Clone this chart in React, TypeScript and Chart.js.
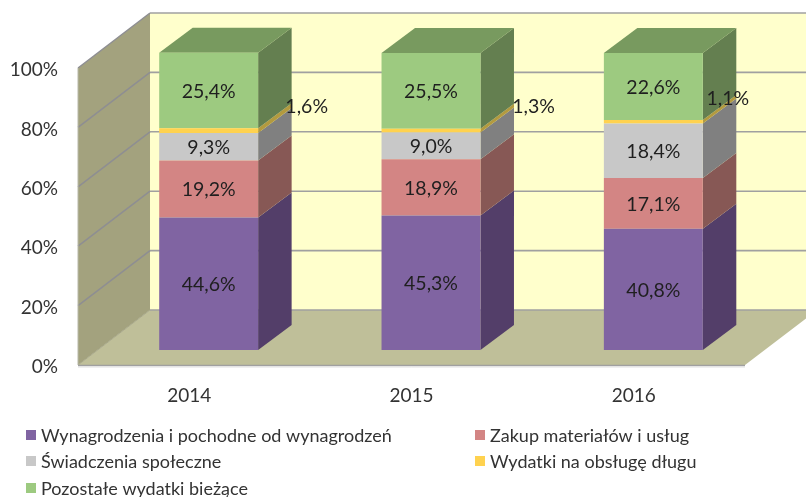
import React, { useEffect, useRef } from "react";
import { Chart, registerables } from "chart.js";

Chart.register(...registerables);

const categories = ["2014", "2015", "2016"];
const wynagrodzenia = [44.6, 45.3, 40.8];
const zakup = [19.2, 18.9, 17.1];
const swiadczenia = [9.3, 9.0, 18.4];
const dlug = [1.6, 1.3, 1.1];
const pozostale = [25.4, 25.5, 22.6];
const seriesNames = [
  "Wynagrodzenia i pochodne od wynagrodzeń",
  "Zakup materiałów i usług",
  "Świadczenia społeczne",
  "Wydatki na obsługę długu",
  "Pozostałe wydatki bieżące",
];

const FONT = "Lato, Carlito, Calibri, sans-serif";
const frontColors = ["#8064A2", "#D38584", "#C8C8C8", "#FFD24F", "#9DCA80"];
const sideColors = ["#533E69", "#875855", "#808080", "#B39A3F", "#647F50"];
const topColor = "#789A5F";
const WALL_DX = 72;
const WALL_DY = -55;
const BAR_DX = 19.5;
const BAR_DY = -15;
const SIDE_DX = 33.5;
const SIDE_DY = -25;
const smallLabelNudgeX = [98, 102.5, 74.5];
const smallLabelNudgeY = [-25, -25, -24];
const legendRows = [
  { col: 0, row: 0 },
  { col: 1, row: 0 },
  { col: 0, row: 1 },
  { col: 1, row: 1 },
  { col: 0, row: 2 },
];
const legendColX = [26, 475];
const legendRowY = [435, 461, 488];

function poly(ctx: CanvasRenderingContext2D, pts: number[][], fill: string) {
  ctx.beginPath();
  pts.forEach((p, i) => (i ? ctx.lineTo(p[0], p[1]) : ctx.moveTo(p[0], p[1])));
  ctx.closePath();
  ctx.fillStyle = fill;
  ctx.fill();
}

function seg(ctx: CanvasRenderingContext2D, a: number[], b: number[], color: string, w: number) {
  ctx.beginPath();
  ctx.moveTo(a[0], a[1]);
  ctx.lineTo(b[0], b[1]);
  ctx.strokeStyle = color;
  ctx.lineWidth = w;
  ctx.stroke();
}

const box3d = {
  id: "box3d",
  beforeDatasetsDraw(chart: any) {
    const { ctx, scales } = chart;
    const { x, y } = scales;
    const L = x.left;
    const R = x.right;
    const yTop = y.getPixelForValue(100);
    const y0 = y.getPixelForValue(0);
    ctx.save();
    // back wall
    poly(ctx, [[L + WALL_DX, yTop + WALL_DY], [R + WALL_DX, yTop + WALL_DY], [R + WALL_DX, y0 + WALL_DY], [L + WALL_DX, y0 + WALL_DY]], "#FFFFCC");
    // left wall
    poly(ctx, [[L, yTop], [L + WALL_DX, yTop + WALL_DY], [L + WALL_DX, y0 + WALL_DY], [L, y0]], "#A3A27E");
    // floor
    poly(ctx, [[L, y0], [R, y0], [R + WALL_DX, y0 + WALL_DY], [L + WALL_DX, y0 + WALL_DY]], "#BFBF99");
    // gridlines
    for (const v of [0, 20, 40, 60, 80, 100]) {
      const py = y.getPixelForValue(v);
      if (v > 0) seg(ctx, [L, py], [L + WALL_DX, py + WALL_DY], "#8E8E92", 1.5);
      seg(ctx, [L + WALL_DX, py + WALL_DY], [R + WALL_DX, py + WALL_DY], "#A0A0A0", 1.6);
    }
    seg(ctx, [L, y0], [L + WALL_DX, y0 + WALL_DY], "#A8A88A", 1);
    seg(ctx, [L, yTop], [L, y0], "#B8B8A8", 1);
    seg(ctx, [L, y0 + 0.5], [R, y0 + 0.5], "#A0A0A0", 1.6);
    seg(ctx, [L, y0 + 2], [R, y0 + 2], "#E0E0E0", 1);
    // 3D faces of the bars, taken from the bar elements
    chart.data.datasets.forEach((ds: any, di: number) => {
      chart.getDatasetMeta(di).data.forEach((bar: any) => {
        const p = bar.getProps(["x", "y", "base", "width"], true);
        const xr = p.x + p.width / 2 + BAR_DX;
        const xl = p.x - p.width / 2 + BAR_DX;
        const top = p.y + BAR_DY;
        const bot = p.base + BAR_DY;
        poly(ctx, [[xr, top], [xr + SIDE_DX, top + SIDE_DY], [xr + SIDE_DX, bot + SIDE_DY], [xr, bot]], sideColors[di]);
        if (di === chart.data.datasets.length - 1) {
          poly(ctx, [[xl, top], [xr, top], [xr + SIDE_DX, top + SIDE_DY], [xl + SIDE_DX, top + SIDE_DY]], topColor);
        }
      });
    });
    ctx.restore();
    ctx.save();
    ctx.translate(BAR_DX, BAR_DY);
  },
  afterDatasetsDraw(chart: any) {
    const { ctx } = chart;
    ctx.restore();
    ctx.save();
    ctx.font = `19.5px ${FONT}`;
    ctx.textAlign = "center";
    ctx.textBaseline = "middle";
    ctx.fillStyle = "#1F1F1F";
    chart.data.datasets.forEach((ds: any, di: number) => {
      chart.getDatasetMeta(di).data.forEach((bar: any, i: number) => {
        const p = bar.getProps(["x", "y", "base"], true);
        let lx = p.x + BAR_DX;
        let ly = (p.y + p.base) / 2 + BAR_DY + 1;
        if (di === 3) {
          lx += smallLabelNudgeX[i];
          ly += smallLabelNudgeY[i];
        }
        const text = Number(ds.data[i]).toFixed(1).replace(".", ",") + "%";
        ctx.fillText(text, lx, ly);
      });
    });
    // legend
    ctx.textAlign = "left";
    ctx.font = `18px ${FONT}`;
    chart.data.datasets.forEach((ds: any, di: number) => {
      const pos = legendRows[di];
      const lx = legendColX[pos.col];
      const ly = legendRowY[pos.row];
      ctx.fillStyle = ds.backgroundColor;
      ctx.fillRect(lx, ly - 5, 10, 10);
      ctx.fillStyle = "#333333";
      ctx.fillText(ds.label, lx + 15, ly + 1);
    });
    ctx.restore();
  },
};

export default function App() {
  const ref = useRef<HTMLCanvasElement>(null);
  useEffect(() => {
    const seriesValues = [wynagrodzenia, zakup, swiadczenia, dlug, pozostale];
    const chart = new Chart(ref.current as HTMLCanvasElement, {
      type: "bar",
      data: {
        labels: categories,
        datasets: seriesValues.map((data, i) => ({
          label: seriesNames[i],
          data,
          backgroundColor: frontColors[i],
          borderWidth: 0,
          barPercentage: 0.445,
          categoryPercentage: 1,
          clip: false as any,
        })),
      },
      options: {
        animation: false,
        responsive: false,
        layout: { padding: { top: 68, right: 61, left: 0, bottom: 0 } },
        plugins: { legend: { display: false }, tooltip: { enabled: false } },
        scales: {
          x: {
            stacked: true,
            grid: { display: false },
            border: { display: false },
            ticks: { color: "#333333", font: { family: FONT, size: 19 }, padding: 11, maxRotation: 0 },
            afterFit: (s: any) => { s.height = 132; },
          },
          y: {
            stacked: true,
            min: 0,
            max: 100,
            grid: { display: false, drawTicks: false },
            border: { display: false },
            ticks: {
              stepSize: 20,
              color: "#333333",
              padding: 20,
              labelOffset: 2,
              font: { family: FONT, size: 19 },
              callback: (v: any) => `${v}%`,
            },
            afterFit: (s: any) => { s.width = 78; },
          },
        },
      },
      plugins: [box3d],
    } as any);
    return () => chart.destroy();
  }, []);
  return (
    <div style={{ position: "absolute", left: 0, top: 0, width: 806, height: 497 }}>
      <canvas ref={ref} width={806} height={497} style={{ display: "block" }} />
    </div>
  );
}
